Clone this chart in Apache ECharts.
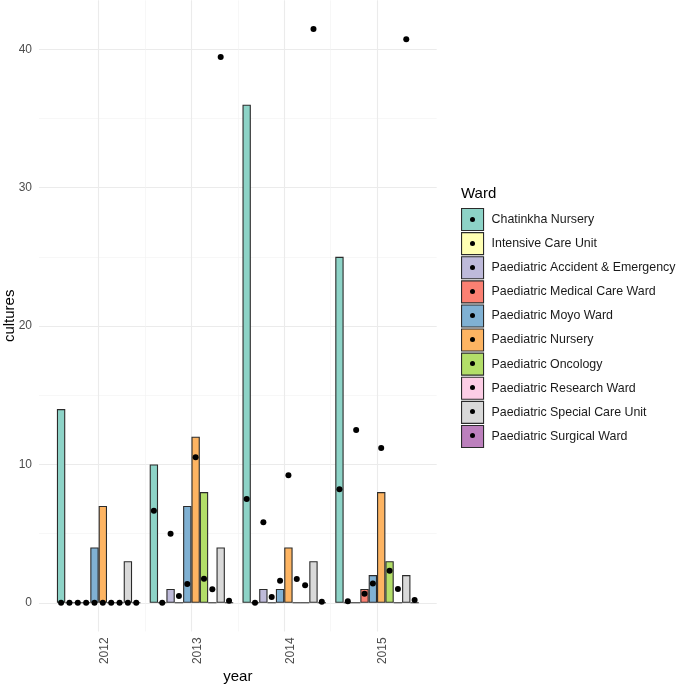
<!DOCTYPE html>
<html>
<head>
<meta charset="utf-8">
<script src="https://cdn.jsdelivr.net/npm/echarts@6/dist/echarts.min.js"></script>
<style>html,body{margin:0;padding:0;background:#fff}#c{width:677px;height:684px}</style>
</head>
<body>
<div id="c"></div>
<script>
var years = [2012, 2013, 2014, 2015];
var wards = ["Chatinkha Nursery", "Intensive Care Unit", "Paediatric Accident & Emergency",
  "Paediatric Medical Care Ward", "Paediatric Moyo Ward", "Paediatric Nursery",
  "Paediatric Oncology", "Paediatric Research Ward", "Paediatric Special Care Unit",
  "Paediatric Surgical Ward"];
var colors = ["#8DD3C7", "#FFFFB3", "#BEBADA", "#FB8072", "#80B1D3", "#FDB462",
  "#B3DE69", "#FCCDE5", "#D9D9D9", "#BC80BD"];
// observed cultures (bars), per ward, by year
var chatinkhaObs = [14, 10, 36, 25];
var icuObs = [0, 0, 0, 0];
var aeObs = [0, 1, 1, 0];
var medicalObs = [0, 0, 0, 1];
var moyoObs = [4, 7, 1, 2];
var nurseryObs = [7, 12, 4, 8];
var oncologyObs = [0, 8, 0, 3];
var researchObs = [0, 0, 0, 0];
var specialObs = [3, 4, 3, 2];
var surgicalObs = [0, 0, 0, 0];
// points, per ward, by year
var chatinkhaPt = [0, 6.65, 7.5, 8.2];
var icuPt = [0, 0, 0, 0.1];
var aePt = [0, 4.99, 5.81, 12.48];
var medicalPt = [0, 0.48, 0.41, 0.65];
var moyoPt = [0, 1.35, 1.59, 1.4];
var nurseryPt = [0, 10.51, 9.21, 11.18];
var oncologyPt = [0, 1.73, 1.71, 2.31];
var researchPt = [0, 0.97, 1.26, 0.99];
var specialPt = [0, 39.44, 41.47, 40.72];
var surgicalPt = [0, 0.14, 0.07, 0.2];
var yTicks = [0, 10, 20, 30, 40];
var yMinor = [5, 15, 25, 35];
var xMinor = [2012.5, 2013.5, 2014.5];

var obs = [chatinkhaObs, icuObs, aeObs, medicalObs, moyoObs, nurseryObs, oncologyObs, researchObs, specialObs, surgicalObs];
var pts = [chatinkhaPt, icuPt, aePt, medicalPt, moyoPt, nurseryPt, oncologyPt, researchPt, specialPt, surgicalPt];

var FONT = "'Liberation Sans', Arial, sans-serif";
var dodgeWidth = 0.9;
var n = wards.length;

var series = [];
var gridData = [];
yTicks.forEach(function (v) { gridData.push({ yAxis: v, lineStyle: { color: '#ebebeb', width: 1.1, type: 'solid' } }); });
yMinor.forEach(function (v) { gridData.push({ yAxis: v, lineStyle: { color: '#f2f2f2', width: 0.6, type: 'solid' } }); });
years.forEach(function (v) { gridData.push({ xAxis: v, lineStyle: { color: '#ebebeb', width: 1.1, type: 'solid' } }); });
xMinor.forEach(function (v) { gridData.push({ xAxis: v, lineStyle: { color: '#f2f2f2', width: 0.6, type: 'solid' } }); });
series.push({
  type: 'line', name: '_grid', data: [], z: 1, silent: true,
  markLine: { silent: true, z: 1, symbol: ['none', 'none'], label: { show: false }, animation: false, data: gridData }
});

wards.forEach(function (w, i) {
  series.push({
    type: 'bar', name: w, z: 10,
    barGap: '0%', barCategoryGap: '10%',
    itemStyle: { color: colors[i], borderColor: '#2b2b2b', borderWidth: 1.1 },
    data: years.map(function (y, j) { return [y, obs[i][j]]; })
  });
});
wards.forEach(function (w, i) {
  series.push({
    type: 'scatter', name: w, z: 12, symbolSize: 6,
    itemStyle: { color: '#000', opacity: 1 },
    data: years.map(function (y, j) {
      return [y - dodgeWidth / 2 + dodgeWidth / n * (i + 0.5), pts[i][j]];
    })
  });
});

var chart = echarts.init(document.getElementById('c'), null, { renderer: 'canvas' });
chart.setOption({
  animation: false,
  backgroundColor: '#fff',
  textStyle: { fontFamily: FONT },
  title: {
    text: 'Ward', left: 461, top: 186, padding: 0,
    textStyle: { fontFamily: FONT, fontSize: 15, fontWeight: 'normal', color: '#000' }
  },
  grid: { left: 39, right: 240.3, top: 0.3, bottom: 52.6, containLabel: false, outerBoundsMode: 'none' },
  xAxis: {
    type: 'value', min: 2011.357, max: 2015.643,
    name: 'year', nameLocation: 'middle', nameGap: 38, nameMoveOverlap: false,
    nameTextStyle: { fontFamily: FONT, fontSize: 15, color: '#000' },
    axisLine: { show: false }, axisTick: { show: false }, splitLine: { show: false },
    axisLabel: {
      customValues: years, rotate: 90, margin: 6, fontSize: 12, color: '#4D4D4D',
      fontFamily: FONT, verticalAlign: 'top',
      formatter: function (v) { return String(Math.round(v)); }
    }
  },
  yAxis: {
    type: 'value', min: -2.07, max: 43.54,
    name: 'cultures', nameLocation: 'middle', nameGap: 21.5, nameRotate: 90, nameMoveOverlap: false,
    nameTextStyle: { fontFamily: FONT, fontSize: 15, color: '#000' },
    axisLine: { show: false }, axisTick: { show: false }, splitLine: { show: false },
    axisLabel: {
      customValues: yTicks, margin: 7, fontSize: 12, color: '#4D4D4D', fontFamily: FONT,
      formatter: function (v) { return String(Math.round(v)); }
    }
  },
  legend: [{
    data: wards, orient: 'vertical', left: 461, top: 208, padding: 0,
    itemWidth: 22, itemHeight: 22, itemGap: 1, icon: 'rect', selectedMode: false,
    itemStyle: { borderColor: '#2b2b2b', borderWidth: 1.1 },
    textStyle: { fontFamily: FONT, fontSize: 12.4, color: '#1a1a1a', padding: [0, 0, 0, 3] }
  }, {
    data: wards, orient: 'vertical', left: 470, top: 217, padding: 0,
    itemWidth: 5, itemHeight: 5, itemGap: 19, icon: 'circle', selectedMode: false,
    itemStyle: { color: '#000', borderWidth: 0, opacity: 1 },
    formatter: function () { return ''; },
    textStyle: { fontSize: 12, lineHeight: 23 }
  }],
  series: series
});
</script>
</body>
</html>
